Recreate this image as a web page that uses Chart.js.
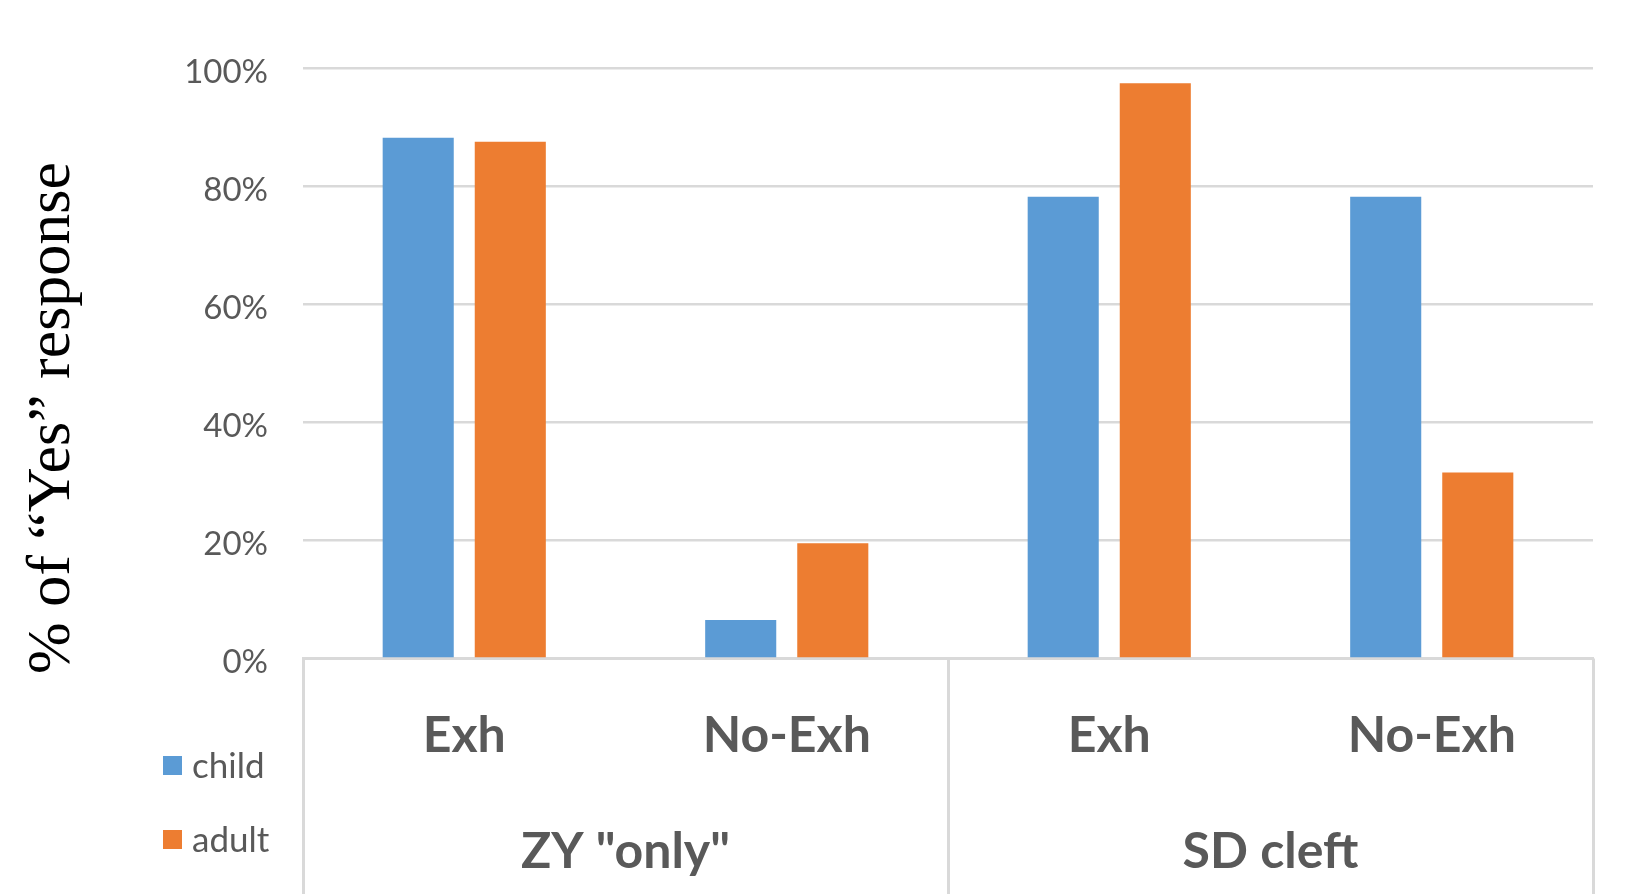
<!DOCTYPE html>
<html><head><meta charset="utf-8">
<script src="https://cdn.jsdelivr.net/npm/chart.js@4/dist/chart.umd.min.js"></script>
<style>html,body{margin:0;padding:0;background:#fff;overflow:hidden}</style>
</head><body>
<canvas id="c" width="1629" height="894" style="width:1629px;height:894px;display:block"></canvas>
<script>
const conditions = ['Exh', 'No-Exh', 'Exh', 'No-Exh'];
const groups = ['ZY "only"', 'SD cleft'];
const seriesNames = ['child', 'adult'];
const childValues = [88.2, 6.5, 78.2, 78.2];
const adultValues = [87.5, 19.5, 97.4, 31.5];
const yTickValues = [0, 20, 40, 60, 80, 100];
const yAxisTitle = '% of \u201CYes\u201D response';
const seriesColors = ['#5B9BD5', '#ED7D31'];

const GRAY = '#595959';
const LINE = '#d9d9d9';

const extras = {
  id: 'extras',
  afterDraw(chart) {
    const ctx = chart.ctx;
    const x2 = chart.scales.x2;
    const ca = chart.chartArea;
    ctx.save();
    // group separators in label area
    ctx.strokeStyle = LINE;
    ctx.lineWidth = 3;
    const bounds = [];
    for (let i = 0; i <= groups.length; i++) bounds.push(x2.getPixelForValue(i - 0.5));
    bounds.forEach(px => {
      ctx.beginPath();
      ctx.moveTo(Math.round(px) + 0.5, ca.bottom);
      ctx.lineTo(Math.round(px) + 0.5, chart.height);
      ctx.stroke();
    });
    // legend
    ctx.font = '35px Lato';
    ctx.textBaseline = 'middle';
    ctx.textAlign = 'left';
    const ys = [766, 840];
    chart.data.datasets.forEach((ds, i) => {
      ctx.fillStyle = ds.backgroundColor;
      ctx.fillRect(163, ys[i] - 10, 19, 19);
      ctx.fillStyle = GRAY;
      ctx.fillText(ds.label, 192, ys[i] + 1);
    });
    // y axis title
    ctx.save();
    ctx.translate(53, 674);
    ctx.rotate(-Math.PI / 2);
    ctx.font = '62px "Liberation Serif"';
    ctx.fillStyle = '#000';
    ctx.textAlign = 'left';
    ctx.textBaseline = 'middle';
    ctx.fillText(yAxisTitle, 0, 0);
    ctx.restore();
    ctx.restore();
  }
};

new Chart(document.getElementById('c'), {
  type: 'bar',
  data: {
    labels: conditions,
    datasets: [
      { label: seriesNames[0], data: childValues, backgroundColor: seriesColors[0] },
      { label: seriesNames[1], data: adultValues, backgroundColor: seriesColors[1] }
    ]
  },
  options: {
    responsive: false,
    animation: false,
    devicePixelRatio: 1,
    categoryPercentage: 0.571,
    barPercentage: 0.772,
    layout: { padding: { left: 0, right: 36, top: 68, bottom: 0 } },
    plugins: { legend: { display: false }, tooltip: { enabled: false } },
    scales: {
      y: {
        min: 0, max: 100,
        afterBuildTicks: s => { s.ticks = yTickValues.map(v => ({ value: v })); },
        afterFit: s => { s.width = 303; },
        ticks: {
          callback: v => v + '%',
          color: GRAY,
          font: { family: 'Lato', size: 33 },
          padding: 35,
          labelOffset: 4
        },
        grid: { color: LINE, lineWidth: 2.5, drawTicks: false },
        border: { display: false },
        title: { display: false }
      },
      x: {
        position: 'bottom',
        afterFit: s => { s.height = 120; },
        grid: { display: false, drawTicks: false },
        border: { display: true, color: LINE, width: 3 },
        ticks: {
          color: GRAY,
          font: { family: 'Lato', size: 50, weight: 'bold' },
          padding: 47,
          maxRotation: 0, autoSkip: false
        }
      },
      x2: {
        type: 'category',
        position: 'bottom',
        labels: groups,
        offset: true,
        afterFit: s => { s.height = 115.5; },
        grid: { display: false, drawTicks: false },
        border: { display: false },
        ticks: {
          color: GRAY,
          font: { family: 'Lato', size: 50, weight: 'bold' },
          padding: 43,
          maxRotation: 0, autoSkip: false
        }
      }
    }
  },
  plugins: [extras]
});
</script>
</body></html>
